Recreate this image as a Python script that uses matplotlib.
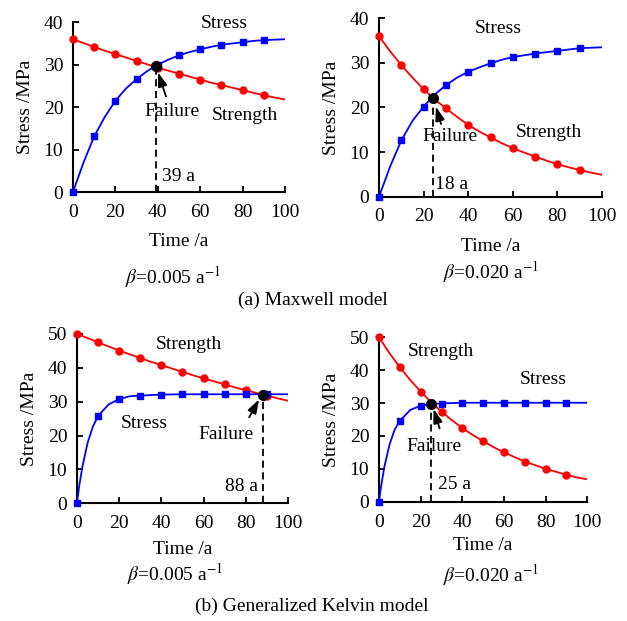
import matplotlib
matplotlib.use("Agg")
import matplotlib.pyplot as plt

plt.rcParams['font.family'] = ['Liberation Serif', 'DejaVu Serif']
plt.rcParams['mathtext.fontset'] = 'stix'
plt.rcParams['font.size'] = 14

# ---- data ----
t_marks = [0, 10, 20, 30, 40, 50, 60, 70, 80, 90]
t_line = [0, 5, 10, 15, 20, 25, 30, 35, 40, 45, 50, 55, 60, 65, 70, 75, 80, 85, 90, 95, 100]
t_line_k = [0, 1, 2.5, 5, 7.5, 10, 15, 20, 25, 30, 40, 50, 60, 70, 80, 90, 100]

# (a) Maxwell, beta = 0.005
a1_strength_pts = [36.0, 34.2, 32.5, 30.9, 29.3, 27.9, 26.5, 25.2, 24.0, 22.8]
a1_stress_pts = [0.0, 13.1, 21.5, 26.6, 30.0, 32.2, 33.6, 34.7, 35.3, 35.8]
a1_strength_line = [36.0, 35.1, 34.2, 33.3, 32.5, 31.7, 30.9, 30.1, 29.3, 28.6, 27.9,
                    27.2, 26.5, 25.8, 25.2, 24.6, 24.0, 23.4, 22.8, 22.3, 21.8]
a1_stress_line = [0.0, 7.0, 13.1, 17.7, 21.5, 24.4, 26.6, 28.5, 30.0, 31.2, 32.2,
                  33.0, 33.6, 34.2, 34.7, 35.0, 35.3, 35.6, 35.8, 35.9, 36.0]
a1_fail = (39, 29.7)

# (a) Maxwell, beta = 0.020
a2_strength_pts = [36.0, 29.5, 24.1, 19.8, 16.1, 13.3, 10.9, 9.0, 7.3, 6.0]
a2_stress_pts = [0.0, 12.6, 20.2, 25.0, 28.0, 29.9, 31.3, 32.1, 32.7, 33.3]
a2_strength_line = [36.0, 32.6, 29.5, 26.7, 24.1, 21.8, 19.8, 17.9, 16.1, 14.6, 13.3,
                    12.0, 10.9, 9.9, 9.0, 8.1, 7.3, 6.6, 6.0, 5.4, 4.9]
a2_stress_line = [0.0, 6.8, 12.6, 17.0, 20.2, 22.9, 25.0, 26.7, 28.0, 29.0, 29.9,
                  30.7, 31.3, 31.7, 32.1, 32.4, 32.7, 33.0, 33.3, 33.4, 33.5]
a2_fail = (24, 22.1)

# (b) Generalized Kelvin, beta = 0.005
b1_strength_pts = [50.0, 47.5, 45.1, 42.9, 40.8, 38.8, 36.9, 35.1, 33.4, 31.8]
b1_stress_pts = [0.0, 25.8, 30.8, 31.8, 32.1, 32.2, 32.2, 32.2, 32.2, 32.2]
b1_strength_line = [50.0, 48.8, 47.5, 46.3, 45.1, 44.0, 42.9, 41.8, 40.8, 39.8, 38.8,
                    37.8, 36.9, 36.0, 35.1, 34.2, 33.4, 32.6, 31.8, 31.0, 30.3]
b1_stress_line = [0.0, 4.9, 10.6, 17.8, 22.6, 25.8, 29.2, 30.8, 31.6, 31.8, 32.1,
                  32.2, 32.2, 32.2, 32.2, 32.2, 32.2]
b1_fail = (88, 32.1)

# (b) Generalized Kelvin, beta = 0.020
b2_strength_pts = [50.0, 40.9, 33.5, 27.4, 22.4, 18.4, 15.0, 12.2, 10.0, 8.2]
b2_stress_pts = [0.0, 24.6, 29.2, 29.8, 30.1, 30.1, 30.1, 30.1, 30.1, 30.1]
b2_strength_line = [50.0, 45.2, 40.9, 37.0, 33.5, 30.3, 27.4, 24.8, 22.4, 20.3, 18.4,
                    16.6, 15.0, 13.6, 12.2, 11.1, 10.0, 9.1, 8.2, 7.4, 6.8]
b2_stress_line = [0.0, 4.7, 10.4, 17.3, 21.9, 24.6, 27.9, 29.2, 29.7, 29.9, 30.1,
                  30.1, 30.1, 30.1, 30.1, 30.1, 30.1]
b2_fail = (25, 29.6)

fig = plt.figure(figsize=(6.27, 6.21), dpi=100)


def panel(rect, ymax, strength_line, stress_line, tl_stress, strength_pts, stress_pts,
          fail, arrow, labels, xlabelpad=9):
    ax = fig.add_axes(rect)
    ax.plot(t_line, strength_line, color='#ff0000', lw=1.3, zorder=3)
    ax.plot(t_marks, strength_pts, 'o', color='#ff0000', ms=5, zorder=4, clip_on=False)
    ax.plot(tl_stress, stress_line, color='#0000ff', lw=1.3, zorder=3)
    ax.plot(t_marks, stress_pts, 's', color='#0000ff', ms=4.5, zorder=4, clip_on=False)
    ax.plot([fail[0], fail[0]], [0, fail[1]], '--', color='black', lw=1.3,
            dashes=(4, 2.5), zorder=2)
    ax.plot([fail[0]], [fail[1]], 'o', color='black', ms=7, zorder=6)
    ax.set_xlim(0, 100)
    ax.set_ylim(0, ymax)
    ax.set_xticks([0, 20, 40, 60, 80, 100])
    ax.set_yticks(list(range(0, ymax + 1, 10)))
    ax.spines['top'].set_visible(False)
    ax.spines['right'].set_visible(False)
    for s in ('left', 'bottom'):
        ax.spines[s].set_linewidth(1.5)
    ax.tick_params(direction='in', length=4, width=1.3, labelsize=14)
    ax.tick_params(axis='x', pad=8.5)
    ax.tick_params(axis='y', pad=7)
    ax.set_xlabel('Time /a', fontsize=14, labelpad=xlabelpad)
    ax.set_ylabel('Stress /MPa', fontsize=14, labelpad=7)
    for txt, x, y, ha in labels:
        ax.text(x, y, txt, ha=ha, va='center', fontsize=14, zorder=7)
    tail, head = arrow
    ax.annotate('', xy=head, xytext=tail,
                arrowprops=dict(arrowstyle='-|>,head_length=0.6,head_width=0.2',
                                color='black', lw=1.3, shrinkA=0, shrinkB=0), zorder=7)
    return ax


panel([0.1164, 0.6908, 0.3381, 0.2733], 40, a1_strength_line, a1_stress_line, t_line,
      a1_strength_pts, a1_stress_pts, a1_fail,
      ((43.9, 22.5), (40.1, 28.2)),
      [('Stress', 71.5, 39.8, 'center'), ('Failure', 46.7, 18.9, 'center'),
       ('Strength', 81, 18.0, 'center'), ('39 a', 42, 3.6, 'left')])
panel([0.6045, 0.6833, 0.3556, 0.2872], 40, a2_strength_line, a2_stress_line, t_line,
      a2_strength_pts, a2_stress_pts, a2_fail,
      ((27.8, 16.3), (25.5, 20.2)),
      [('Stress', 53.6, 37.7, 'center'), ('Failure', 32, 13.4, 'center'),
       ('Strength', 76, 14.3, 'center'), ('18 a', 25, 2.8, 'left')])
panel([0.1228, 0.1895, 0.3365, 0.2727], 50, b1_strength_line, b1_stress_line, t_line_k,
      b1_strength_pts, b1_stress_pts, b1_fail,
      ((81.6, 25.4), (86.3, 30.7)),
      [('Strength', 53, 46.9, 'center'), ('Stress', 32, 23.6, 'center'),
       ('Failure', 70.8, 20.4, 'center'), ('88 a', 85.8, 4.9, 'right')],
      xlabelpad=6.5)
panel([0.6045, 0.1921, 0.3322, 0.2647], 50, b2_strength_line, b2_stress_line, t_line_k,
      b2_strength_pts, b2_stress_pts, b2_fail,
      ((29.1, 22.3), (26.2, 28.2)),
      [('Strength', 29.6, 45.6, 'center'), ('Stress', 78.8, 37.3, 'center'),
       ('Failure', 26.4, 16.9, 'center'), ('25 a', 28.3, 5.1, 'left')],
      xlabelpad=4.5)


def ftext(xpx, ypx, s):
    fig.text(xpx / 627, 1 - ypx / 621, s, ha='center', va='center', fontsize=14)


ftext(173, 277, r'$\mathit{\beta}$=0.005 a$^{-1}$')
ftext(491, 272, r'$\mathit{\beta}$=0.020 a$^{-1}$')
ftext(313, 300, '(a) Maxwell model')
ftext(175, 574, r'$\mathit{\beta}$=0.005 a$^{-1}$')
ftext(491, 575, r'$\mathit{\beta}$=0.020 a$^{-1}$')
ftext(312, 606, '(b) Generalized Kelvin model')

fig.savefig('out.png', dpi=100)
